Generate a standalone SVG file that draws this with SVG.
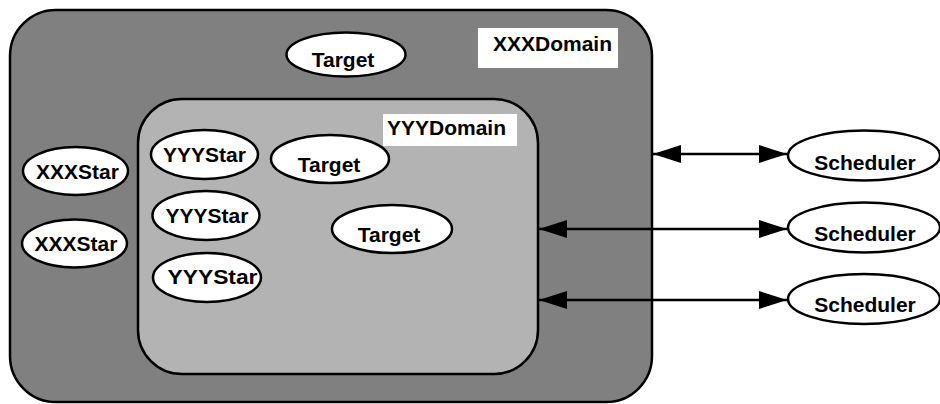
<svg xmlns="http://www.w3.org/2000/svg" width="940" height="404" viewBox="0 0 940 404">
<defs>
<style>
.dom{stroke:#000;stroke-width:2.5}
.node{fill:#fff;stroke:#000;stroke-width:2.5}
.lbl{font-family:"Liberation Sans",Arial,sans-serif;font-weight:bold;font-size:21px;fill:#000}
.mid{text-anchor:middle}
.conn{stroke:#000;stroke-width:2.4;fill:none;marker-start:url(#ah);marker-end:url(#ah)}
</style>
<marker id="ah" viewBox="0 0 28 18" refX="28" refY="9" markerWidth="28" markerHeight="18" markerUnits="userSpaceOnUse" orient="auto-start-reverse">
<path d="M0,0 L28,9 L0,18 Z" fill="#000"/>
</marker>
</defs>
<g id="xxxdomain">
<rect class="dom" x="10" y="10" width="642" height="392" rx="46" ry="46" fill="#808080"/>
<rect x="478" y="28" width="140" height="40" fill="#fff"/>
<text class="lbl" x="493" y="51">XXXDomain</text>
</g>
<g id="yyydomain">
<rect class="dom" x="138" y="99" width="400" height="275" rx="44" ry="44" fill="#b3b3b3"/>
<rect x="383" y="114" width="134" height="32" fill="#fff"/>
<text class="lbl" x="387" y="135">YYYDomain</text>
</g>
<g id="target-top"><ellipse class="node" cx="346" cy="54.5" rx="59.5" ry="22"/><text class="lbl mid" x="343" y="66.5">Target</text></g>
<g id="xxxstar-1"><ellipse class="node" cx="75.5" cy="171" rx="52.5" ry="24"/><text class="lbl mid" x="77.5" y="178.5">XXXStar</text></g>
<g id="xxxstar-2"><ellipse class="node" cx="74.5" cy="243.5" rx="52.5" ry="24"/><text class="lbl mid" x="76" y="251">XXXStar</text></g>
<g id="yyystar-1"><ellipse class="node" cx="204.5" cy="154.5" rx="53.5" ry="24.5"/><text class="lbl mid" x="204.5" y="162">YYYStar</text></g>
<g id="yyystar-2"><ellipse class="node" cx="206" cy="215.5" rx="53.5" ry="24.5"/><text class="lbl mid" x="207" y="223">YYYStar</text></g>
<g id="yyystar-3"><ellipse class="node" cx="207" cy="277.5" rx="54" ry="24.5"/><text class="lbl mid" x="212.5" y="284" textLength="90" lengthAdjust="spacingAndGlyphs">YYYStar</text></g>
<g id="target-inner-1"><ellipse class="node" cx="330" cy="159" rx="59" ry="24"/><text class="lbl mid" x="329" y="172">Target</text></g>
<g id="target-inner-2"><ellipse class="node" cx="392" cy="229" rx="60" ry="24"/><text class="lbl mid" x="389" y="242">Target</text></g>
<g id="scheduler-1"><ellipse class="node" cx="864" cy="155.5" rx="76" ry="25"/><text class="lbl mid" x="865" y="170">Scheduler</text></g>
<g id="scheduler-2"><ellipse class="node" cx="864" cy="227.5" rx="76" ry="25"/><text class="lbl mid" x="865" y="241">Scheduler</text></g>
<g id="scheduler-3"><ellipse class="node" cx="864" cy="299" rx="76" ry="25"/><text class="lbl mid" x="865" y="311.5">Scheduler</text></g>
<g id="connectors">
<line class="conn" x1="653" y1="154" x2="787" y2="154"/>
<line class="conn" x1="539" y1="229" x2="787" y2="229"/>
<line class="conn" x1="539" y1="300" x2="787" y2="300"/>
</g>
</svg>
